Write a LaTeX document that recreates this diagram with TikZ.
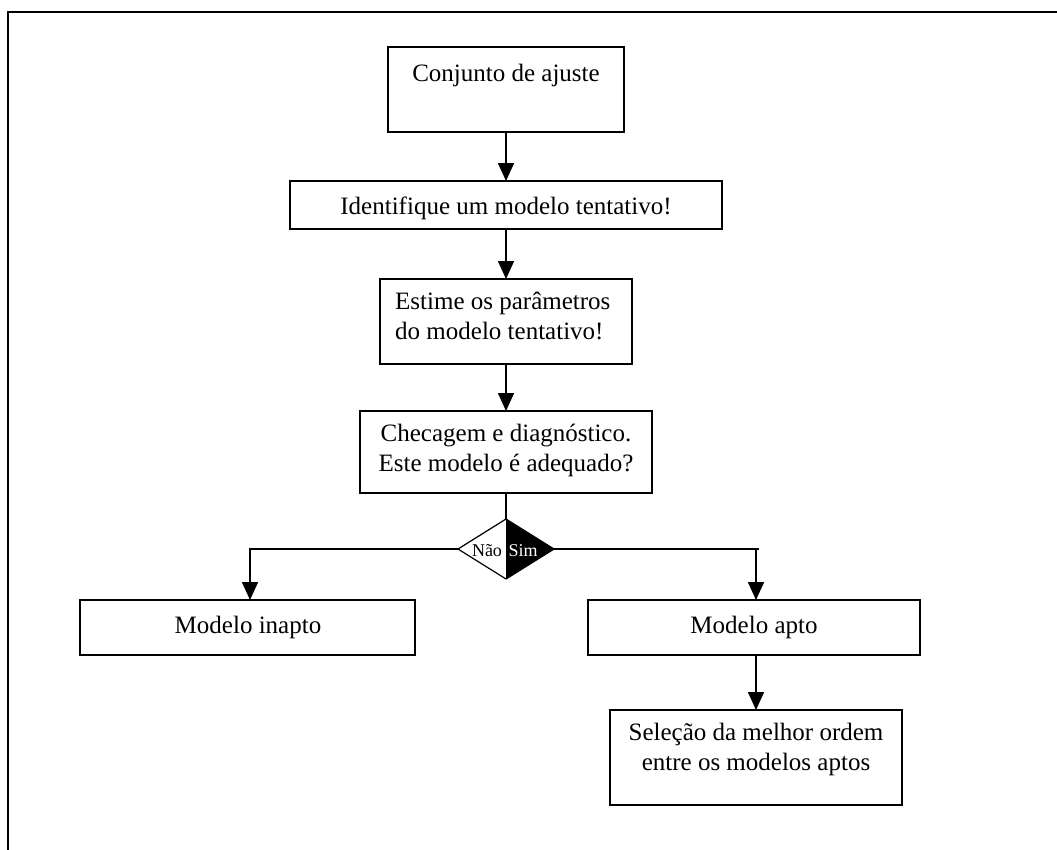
\documentclass[tikz,border=0pt]{standalone}
\usepackage{fontspec}
\setmainfont{Liberation Serif}
\usetikzlibrary{arrows.meta}
\begin{document}
\begin{tikzpicture}[x=1pt,y=-1pt,
  box/.style={draw,line width=1.6pt},
  lbl/.style={font=\fontsize{25}{30}\selectfont,inner sep=0pt},
  link/.style={line width=1.6pt},
  arr/.style={link,-{Triangle[length=18pt,width=16pt]}},
  small/.style={font=\fontsize{18}{20}\selectfont,inner sep=0pt}]
\useasboundingbox (0,0) rectangle (1057,849);
% outer frame, running past the page edge on the right and bottom
\draw[line width=1.8pt] (8,900) -- (8,12) -- (1100,12);

% process boxes on the main axis x = 506
\draw[box] (388,47) rectangle (624,132);
\node[lbl,anchor=base] (t1) at (506,81) {Conjunto de ajuste};
\coordinate (b1s) at (506,132);

\draw[box] (290,181) rectangle (722,229);
\node[lbl,anchor=base] (t2) at (506,214) {Identifique um modelo tentativo!};
\coordinate (b2n) at (506,181);
\coordinate (b2s) at (506,229);

\draw[box] (380,279) rectangle (632,364);
\node[lbl,align=left,anchor=north west] (t3) at (395,292) {Estime os parâmetros\\do modelo tentativo!};
\coordinate (b3n) at (506,279);
\coordinate (b3s) at (506,364);

\draw[box] (360,411) rectangle (652,493);
\node[lbl,align=center,anchor=north] (t4) at (506,424) {Checagem e diagnóstico.\\Este modelo é adequado?};
\coordinate (b4n) at (506,411);
\coordinate (b4s) at (506,493);

% decision diamond: white left half, black right half
\coordinate (dt) at (506,519);
\coordinate (db) at (506,579);
\coordinate (dl) at (458,549);
\coordinate (dr) at (554,549);
\fill[black] (dt) -- (dr) -- (db) -- cycle;
\draw[line width=1.2pt] (dt) -- (dl) -- (db);
\draw[line width=1.2pt] (dt) -- (dr) -- (db);
\node[small] (no) at (487,551) {Não};
\node[small,text=white] (yes) at (523,551) {Sim};

% outcome boxes
\draw[box] (80,600) rectangle (415,655);
\node[lbl] (t5) at (248,627) {Modelo inapto};
\coordinate (b5n) at (250,600);

\draw[box] (588,600) rectangle (920,655);
\node[lbl] (t6) at (754,627) {Modelo apto};
\coordinate (b6n) at (756,600);
\coordinate (b6s) at (756,655);

\draw[box] (610,710) rectangle (902,805);
\node[lbl,align=center,anchor=north] (t7) at (756,723) {Seleção da melhor ordem\\entre os modelos aptos};
\coordinate (b7n) at (756,710);

% connectors
\coordinate (rk) at (756,549);
\draw[arr] (b1s) -- (b2n);
\draw[arr] (b2s) -- (b3n);
\draw[arr] (b3s) -- (b4n);
\draw[link] (b4s) -- (dt);
\draw[arr] (dl) -- (250,549) -- (b5n);
\draw[link] (dr) -- ([xshift=3pt]rk);
\draw[arr] (rk) -- (b6n);
\draw[arr] (b6s) -- (b7n);
\end{tikzpicture}
\end{document}
